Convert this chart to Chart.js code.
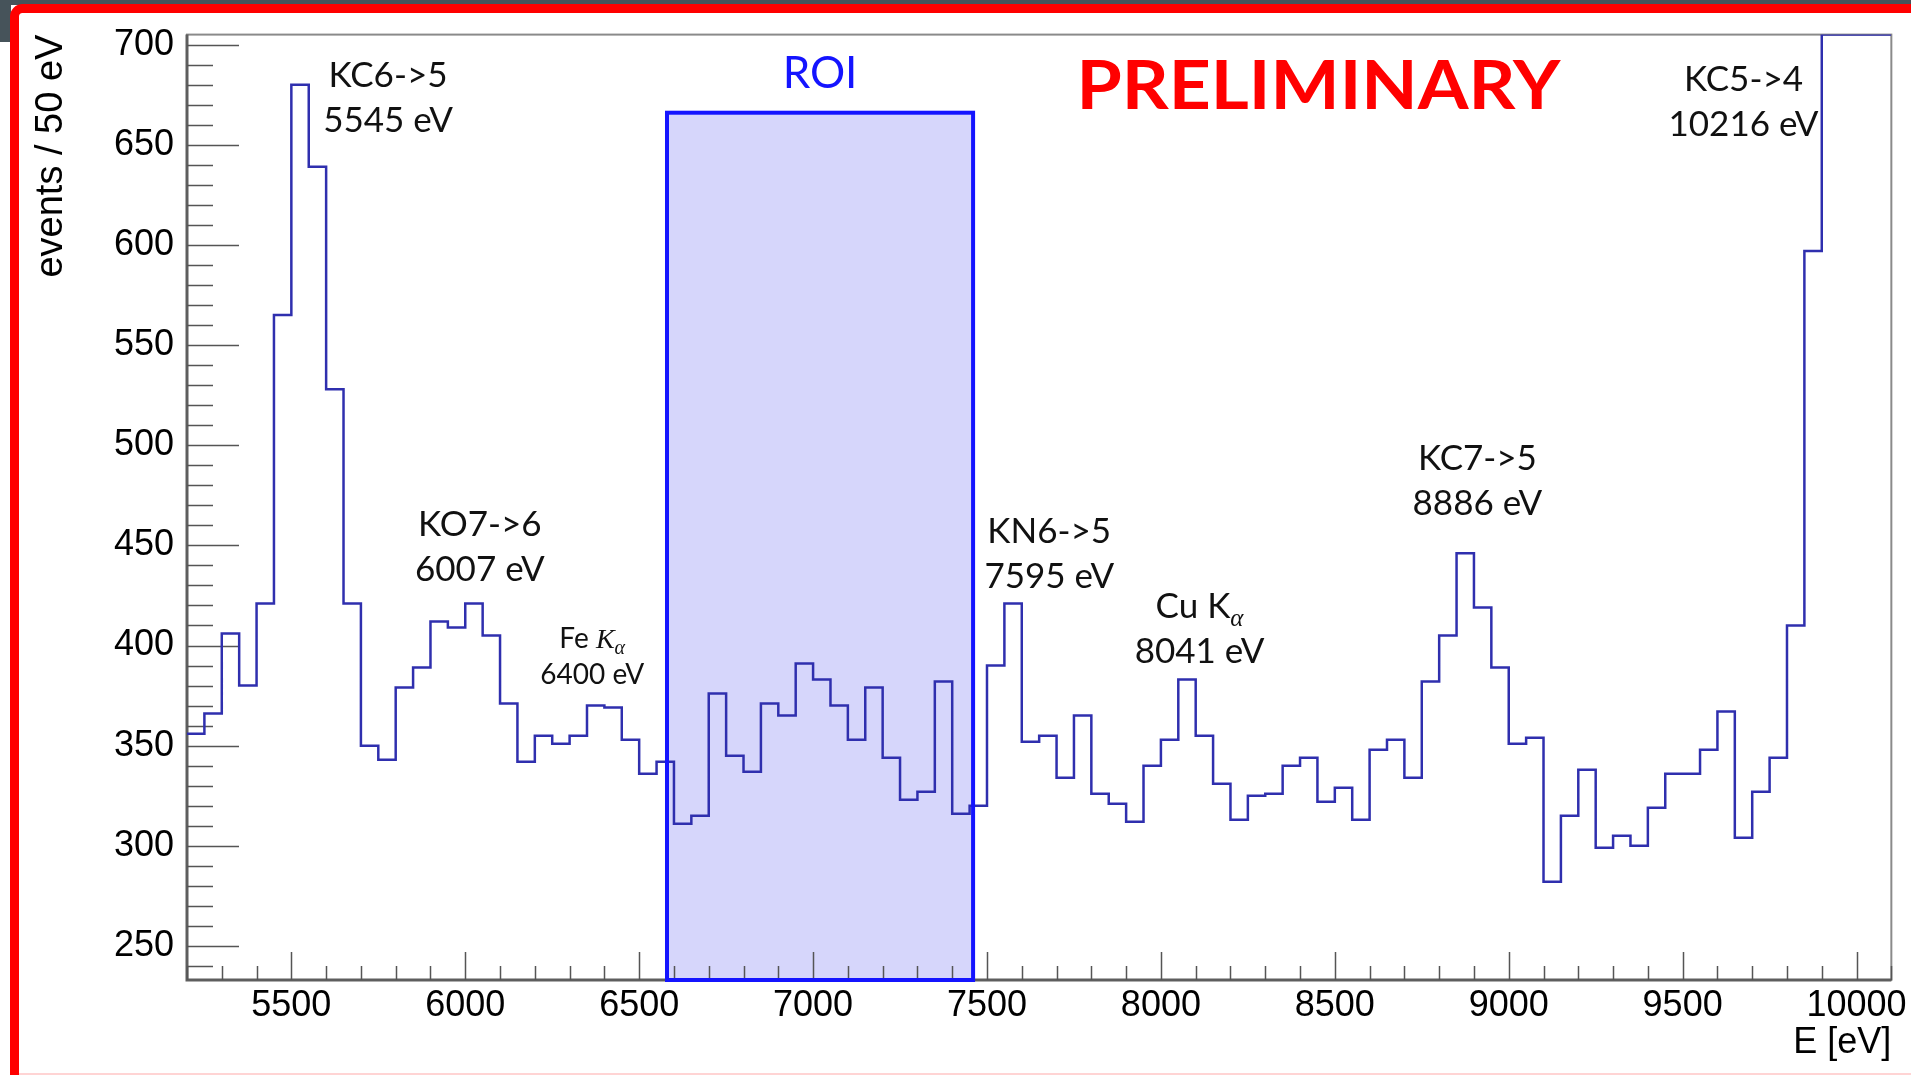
<!DOCTYPE html>
<html>
<head>
<meta charset="utf-8">
<script src="https://cdn.jsdelivr.net/npm/chart.js@4.4.1/dist/chart.umd.min.js"></script>
<style>
html,body{margin:0;padding:0;background:#fff;overflow:hidden}
canvas{display:block}
</style>
</head>
<body>
<canvas id="espectro" width="1911" height="1075"></canvas>
<script>
// histogram: 50 eV bins starting at 5200 eV
const binLow = 5200
const binWidth = 50
const counts = [
356,366,406,380,421,565,680,639,528,421,
350,343,379,389,412,409,421,405,371,342,
355,351,355,370,369,353,336,342,311,315,
376,345,337,371,365,391,383,370,353,379,
344,323,327,382,316,320,390,421,352,355,
334,365,326,321,312,340,353,383,355,331,
313,325,326,340,344,322,329,313,348,353,
334,382,405,446,419,389,351,354,282,315,
338,299,305,300,319,336,336,348,367,304,
327,344,410,597,705,705,705,705]

const xRange = [5200, 10100]
const yRange = [233, 705]
const xTickLabels = [5500, 6000, 6500, 7000, 7500, 8000, 8500, 9000, 9500, 10000]
const yTickLabels = [250, 300, 350, 400, 450, 500, 550, 600, 650, 700]
const xSteps = [500, 100]   // major, minor
const ySteps = [50, 10]

// region of interest (eV, counts)
const roi = {from: 6580, to: 7460, top: 666}

// peak labels: name, energy text, anchor (eV, counts)
const picos = [
  {nome: "KC6->5", energia: "5545 eV", e: 5778, n: 685},
  {nome: "KO7->6", energia: "6007 eV", e: 6042, n: 461},
  {nome: "Fe K_α", energia: "6400 eV", e: 6365, n: 404, pequeno: true},
  {nome: "KN6->5", energia: "7595 eV", e: 7679, n: 457.5},
  {nome: "Cu K_α", energia: "8041 eV", e: 8111, n: 420},
  {nome: "KC7->5", energia: "8886 eV", e: 8910, n: 494},
  {nome: "KC5->4", energia: "10216 eV", e: 9675, n: 683}
]

const sans = "'Liberation Sans', Arial, sans-serif"

let pontos = counts.map((c, i) => ({x: binLow + i * binWidth, y: c}))
pontos.push({x: binLow + counts.length * binWidth, y: counts[counts.length - 1]})

function textoRico(ctx, segs, cx, base) {
  let w = 0
  segs.forEach(s => { ctx.font = s.f; w += ctx.measureText(s.t).width })
  let x = cx - w / 2
  ctx.textAlign = "left"
  ctx.textBaseline = "alphabetic"
  segs.forEach(s => {
    ctx.font = s.f
    ctx.fillText(s.t, x, base + (s.dy || 0))
    x += ctx.measureText(s.t).width
  })
}

const moldura = {
  id: "moldura",
  beforeDraw(chart) {
    const ctx = chart.ctx
    ctx.save()
    ctx.fillStyle = "#fff"
    ctx.fillRect(0, 0, chart.width, chart.height)
    ctx.fillStyle = "#46535a"
    ctx.fillRect(0, 0, chart.width, 5)
    ctx.fillRect(0, 0, 11, 42)
    ctx.strokeStyle = "#ff0000"
    ctx.lineWidth = 9
    ctx.beginPath()
    ctx.roundRect(14.5, 8.5, chart.width + 40, chart.height + 40, 8)
    ctx.stroke()
    ctx.fillStyle = "#ffd4d4"
    ctx.fillRect(19, chart.height - 2, chart.width, 2)
    ctx.restore()
  },
  beforeDatasetsDraw(chart) {
    const ctx = chart.ctx
    const {left, right, top, bottom} = chart.chartArea
    const x = chart.scales.x, y = chart.scales.y
    ctx.save()
    // roi fill
    const rx0 = x.getPixelForValue(roi.from), rx1 = x.getPixelForValue(roi.to)
    const ry = y.getPixelForValue(roi.top)
    ctx.fillStyle = "rgb(214,214,251)"
    ctx.fillRect(rx0, ry, rx1 - rx0, bottom - ry)
    // frame
    ctx.strokeStyle = "#8a8a8a"
    ctx.lineWidth = 2
    ctx.strokeRect(left, top, right - left, bottom - top)
    ctx.strokeStyle = "#5e5e5e"
    ctx.lineWidth = 3
    ctx.beginPath()
    ctx.moveTo(left, top); ctx.lineTo(left, bottom); ctx.lineTo(right, bottom)
    ctx.stroke()
    // ticks
    ctx.strokeStyle = "#555"
    ctx.lineWidth = 1.5
    ctx.beginPath()
    for (let v = Math.ceil(y.min / ySteps[1]) * ySteps[1]; v <= y.max; v += ySteps[1]) {
      const p = Math.round(y.getPixelForValue(v)) + 0.5
      const len = v % ySteps[0] === 0 ? 52 : 26
      ctx.moveTo(left, p); ctx.lineTo(left + len, p)
    }
    for (let v = Math.ceil(x.min / xSteps[1]) * xSteps[1]; v <= x.max; v += xSteps[1]) {
      const p = Math.round(x.getPixelForValue(v)) + 0.5
      const len = v % xSteps[0] === 0 ? 28 : 14
      ctx.moveTo(p, bottom); ctx.lineTo(p, bottom - len)
    }
    ctx.stroke()
    ctx.restore()
  },
  afterDatasetsDraw(chart) {
    const ctx = chart.ctx
    const {bottom} = chart.chartArea
    const x = chart.scales.x, y = chart.scales.y
    ctx.save()
    const rx0 = x.getPixelForValue(roi.from), rx1 = x.getPixelForValue(roi.to)
    const ry = y.getPixelForValue(roi.top)
    ctx.strokeStyle = "#1414ff"
    ctx.lineWidth = 4
    ctx.strokeRect(rx0, ry, rx1 - rx0, bottom - ry)

    // labels
    ctx.fillStyle = "#1414ff"
    ctx.font = "44px Lato"
    ctx.textAlign = "center"
    ctx.textBaseline = "alphabetic"
    ctx.fillText("ROI", x.getPixelForValue((roi.from + roi.to) / 2), y.getPixelForValue(686) + 0.36 * 44)

    ctx.fillStyle = "#111"
    picos.forEach(p => {
      const tam = p.pequeno ? 28 : 35
      const gap = p.pequeno ? 36 : 45
      const cx = x.getPixelForValue(p.e)
      const base = y.getPixelForValue(p.n) + 0.36 * tam
      let segs
      if (p.nome.includes("K_α")) {
        const pre = p.nome.split("K_α")[0]
        const kf = p.pequeno ? "italic " + tam + "px 'Liberation Serif'" : tam + "px Lato"
        segs = [
          {t: pre, f: tam + "px Lato"},
          {t: "K", f: kf},
          {t: "α", f: "italic " + Math.round(tam * 0.72) + "px 'Liberation Serif'", dy: tam * 0.22}
        ]
      } else {
        segs = [{t: p.nome, f: tam + "px Lato"}]
      }
      textoRico(ctx, segs, cx, base)
      textoRico(ctx, [{t: p.energia, f: tam + "px Lato"}], cx, base + gap)
    })

    // PRELIMINARY stamp
    ctx.fillStyle = "#ff0000"
    ctx.font = "bold 66px Lato"
    const w = ctx.measureText("PRELIMINARY").width
    ctx.translate(x.getPixelForValue(8453), y.getPixelForValue(679.5) + 0.36 * 66)
    ctx.scale(484 / w, 1)
    ctx.textAlign = "center"
    ctx.fillText("PRELIMINARY", 0, 0)
    ctx.restore()
  }
}

new Chart(document.getElementById("espectro"), {
  type: "line",
  data: {
    datasets: [{
      data: pontos,
      stepped: true,
      borderColor: "#2f2fae",
      borderWidth: 2.5,
      pointRadius: 0,
      fill: false
    }]
  },
  options: {
    responsive: false,
    animation: false,
    layout: {padding: {top: 32, right: 19, left: 0, bottom: 0}},
    plugins: {legend: {display: false}, tooltip: {enabled: false}},
    scales: {
      x: {
        type: "linear",
        min: xRange[0], max: xRange[1],
        afterBuildTicks: s => { s.ticks = xTickLabels.map(v => ({value: v})) },
        afterFit: s => { s.height = 95 },
        grid: {display: false, drawTicks: false},
        border: {display: false},
        ticks: {autoSkip: false, maxRotation: 0, padding: 4, color: "#000",
          font: {family: sans, size: 36}, callback: v => String(v)},
        title: {display: true, text: "E [eV]", align: "end", color: "#000",
          font: {family: sans, size: 36}, padding: {top: 0, bottom: 10}}
      },
      y: {
        min: yRange[0], max: yRange[1],
        afterBuildTicks: s => { s.ticks = yTickLabels.map(v => ({value: v})) },
        afterFit: s => { s.width = 187 },
        grid: {display: false, drawTicks: false},
        border: {display: false},
        ticks: {autoSkip: false, padding: 13, color: "#000",
          font: {family: sans, size: 36}, callback: v => String(v)},
        title: {display: true, text: "events / 50 eV", align: "end", color: "#000",
          font: {family: sans, size: 38}, padding: {top: 29, bottom: 0}}
      }
    }
  },
  plugins: [moldura]
})
</script>
</body>
</html>
